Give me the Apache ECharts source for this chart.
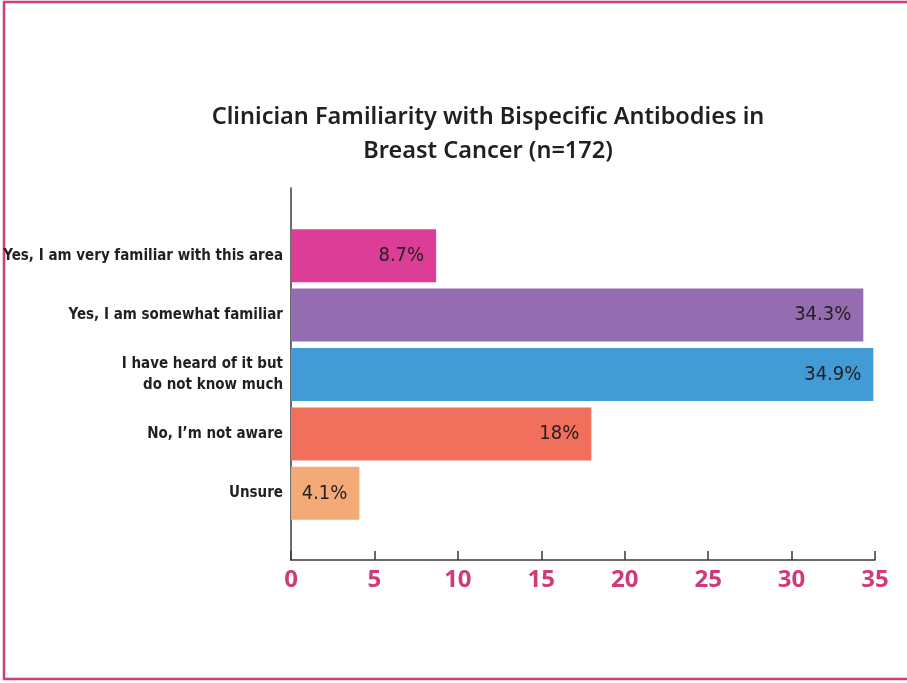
<!DOCTYPE html>
<html>
<head>
<meta charset="utf-8">
<script src="https://cdn.jsdelivr.net/npm/echarts@6/dist/echarts.min.js"></script>
<style>
  html, body { margin: 0; padding: 0; background: #fff; }
  #chart { width: 907px; height: 683px; }
</style>
</head>
<body>
<div id="chart"></div>
<script>
const categories = [
  'Yes, I am very familiar with this area',
  'Yes, I am somewhat familiar',
  'I have heard of it but\ndo not know much',
  'No, I\u2019m not aware',
  'Unsure'
]
const values = [8.7, 34.3, 34.9, 18, 4.1]
const valueLabels = ['8.7%', '34.3%', '34.9%', '18%', '4.1%']
const barColors = ['#dc3e97', '#946db1', '#439bd5', '#f0705d', '#f4aa76']
const xTicks = [0, 5, 10, 15, 20, 25, 30, 35]

const chart = echarts.init(document.getElementById('chart'))

const narrow = '"DejaVu Sans Condensed", "Liberation Sans Narrow", sans-serif'

chart.setOption({
  backgroundColor: '#fff',
  animation: false,
  title: {
    text: 'Clinician Familiarity with Bispecific Antibodies in\nBreast Cancer (n=172)',
    left: 483,
    top: 95,
    textAlign: 'center',
    textStyle: {
      fontFamily: '"Noto Sans", sans-serif',
      fontSize: 23.5,
      fontWeight: 600,
      color: '#231f20',
      lineHeight: 34
    }
  },
  graphic: [
    {
      type: 'rect',
      shape: { x: 4, y: 2, width: 1000, height: 677 },
      style: { fill: 'none', stroke: '#cc3f7a', lineWidth: 2.5 },
      silent: true
    }
  ],
  grid: [
    { left: 291, right: 32, top: 188, bottom: 123, outerBoundsMode: 'none', containLabel: false },
    { left: 291, right: 32, top: 226, bottom: 160, outerBoundsMode: 'none', containLabel: false }
  ],
  xAxis: [
    {
      gridIndex: 0,
      type: 'value',
      min: xTicks[0],
      max: xTicks[xTicks.length - 1],
      interval: 5,
      axisLine: { show: true, lineStyle: { color: '#3a3a3a', width: 1.5 } },
      axisTick: { show: true, inside: true, length: 9, lineStyle: { color: '#3a3a3a', width: 1.5 } },
      splitLine: { show: false },
      axisLabel: {
        color: '#cf3a78',
        fontSize: 24,
        fontWeight: 'bold',
        fontFamily: '"Open Sans", sans-serif',
        margin: 8
      }
    },
    {
      gridIndex: 1,
      type: 'value',
      min: xTicks[0],
      max: xTicks[xTicks.length - 1],
      show: false
    }
  ],
  yAxis: [
    {
      gridIndex: 0,
      type: 'value',
      axisLine: { show: true, lineStyle: { color: '#3a3a3a', width: 1.5 } },
      axisTick: { show: false },
      axisLabel: { show: false },
      splitLine: { show: false }
    },
    {
      gridIndex: 1,
      type: 'category',
      inverse: true,
      data: categories,
      axisLine: { show: false },
      axisTick: { show: false },
      axisLabel: {
        color: '#231f20',
        fontFamily: narrow,
        fontWeight: 'bold',
        fontSize: 15,
        lineHeight: 21,
        margin: 8,
        align: 'right'
      }
    }
  ],
  series: [
    {
      type: 'bar',
      xAxisIndex: 1,
      yAxisIndex: 1,
      barWidth: 53,
      data: values.map((v, i) => ({ value: v, itemStyle: { color: barColors[i] } })),
      label: {
        show: true,
        position: 'insideRight',
        distance: 12,
        color: '#231f20',
        fontFamily: narrow,
        fontSize: 20,
        formatter: (p) => valueLabels[p.dataIndex]
      }
    }
  ]
})
</script>
</body>
</html>
